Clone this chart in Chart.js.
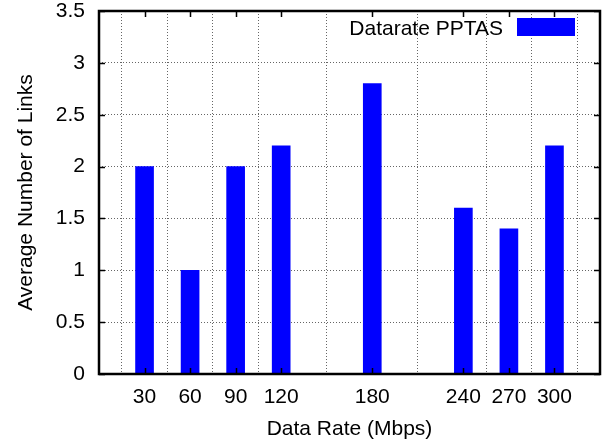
<!DOCTYPE html>
<html>
<head>
<meta charset="utf-8">
<script src="https://cdn.jsdelivr.net/npm/chart.js@4/dist/chart.umd.min.js"></script>
<style>
html,body{margin:0;padding:0;background:#fff;}
canvas{display:block;}
</style>
</head>
<body>
<canvas id="c" width="608" height="445"></canvas>
<script>
const dataRates = [30, 60, 90, 120, 180, 240, 270, 300];
const avgLinks = [2, 1, 2, 2.2, 2.8, 1.6, 1.4, 2.2];
const xTickLabels = [30, 60, 90, 120, 180, 240, 270, 300];
const yTickLabels = [0, 0.5, 1, 1.5, 2, 2.5, 3, 3.5];
const seriesName = 'Datarate PPTAS';
const xTitle = 'Data Rate (Mbps)';
const yTitle = 'Average Number of Links';

const FONT = '"Liberation Sans", Arial, Helvetica, sans-serif';
const BLUE = '#0000ff';

const framePlugin = {
  id: 'frame',
  afterDraw(chart) {
    const {ctx, chartArea: a, scales} = chart;
    ctx.save();
    ctx.strokeStyle = '#000';
    ctx.lineWidth = 1.5;
    const tl = 6;
    ctx.beginPath();
    xTickLabels.forEach(v => {
      const px = Math.round(scales.x.getPixelForValue(v)) + 0.5;
      ctx.moveTo(px, a.bottom); ctx.lineTo(px, a.bottom - tl);
      ctx.moveTo(px, a.top); ctx.lineTo(px, a.top + tl);
    });
    yTickLabels.forEach(v => {
      const py = Math.round(scales.y.getPixelForValue(v)) + 0.5;
      ctx.moveTo(a.left, py); ctx.lineTo(a.left + tl, py);
      ctx.moveTo(a.right, py); ctx.lineTo(a.right - tl, py);
    });
    ctx.stroke();
    ctx.lineWidth = 2.5;
    ctx.strokeRect(a.left, a.top, a.right - a.left, a.bottom - a.top);
    const boxW = 58, boxH = 18;
    const boxX = a.right - 25 - boxW;
    const boxY = a.top + 7;
    ctx.fillStyle = BLUE;
    ctx.fillRect(boxX, boxY, boxW, boxH);
    ctx.fillStyle = '#000';
    ctx.font = '21px ' + FONT;
    ctx.textAlign = 'right';
    ctx.textBaseline = 'alphabetic';
    ctx.fillText(chart.data.datasets[0].label, boxX - 14, boxY + 17);
    ctx.restore();
  }
};

Chart.defaults.color = '#000';
Chart.defaults.font.family = FONT;

new Chart(document.getElementById('c'), {
  type: 'bar',
  data: {
    datasets: [{
      label: seriesName,
      data: dataRates.map((x, i) => ({x: x, y: avgLinks[i]})),
      backgroundColor: BLUE,
      borderWidth: 0,
      barThickness: 18
    }]
  },
  options: {
    responsive: false,
    animation: false,
    devicePixelRatio: 1,
    layout: {padding: {top: 11, right: 8, left: 0, bottom: 0}},
    plugins: {legend: {display: false}, tooltip: {enabled: false}},
    scales: {
      x: {
        type: 'linear',
        min: 0, max: 330,
        offset: false,
        afterBuildTicks: s => { s.ticks = xTickLabels.map(v => ({value: v})); },
        afterFit: s => { s.height = 71; s.paddingLeft = 0; s.paddingRight = 0; },
        ticks: {
          font: {size: 21},
          padding: 11,
          maxRotation: 0,
          autoSkip: false,
          callback: v => String(v)
        },
        grid: {
          color: '#666',
          lineWidth: 1,
          tickLength: 0,
          drawTicks: false
        },
        border: {display: false, dash: [1, 2]},
        title: {display: true, text: xTitle, font: {size: 21}, padding: {top: 4, bottom: 3}}
      },
      y: {
        type: 'linear',
        min: 0, max: 3.5,
        afterBuildTicks: s => { s.ticks = yTickLabels.map(v => ({value: v})); },
        afterFit: s => { s.width = 99; s.paddingTop = 0; s.paddingBottom = 0; },
        ticks: {
          font: {size: 21},
          padding: 14,
          callback: v => String(v)
        },
        grid: {
          color: '#666',
          lineWidth: 1,
          tickLength: 0,
          drawTicks: false
        },
        border: {display: false, dash: [1, 2]},
        title: {display: true, text: yTitle, font: {size: 21}, padding: {top: 14, bottom: 4}}
      }
    }
  },
  plugins: [framePlugin]
});
</script>
</body>
</html>
